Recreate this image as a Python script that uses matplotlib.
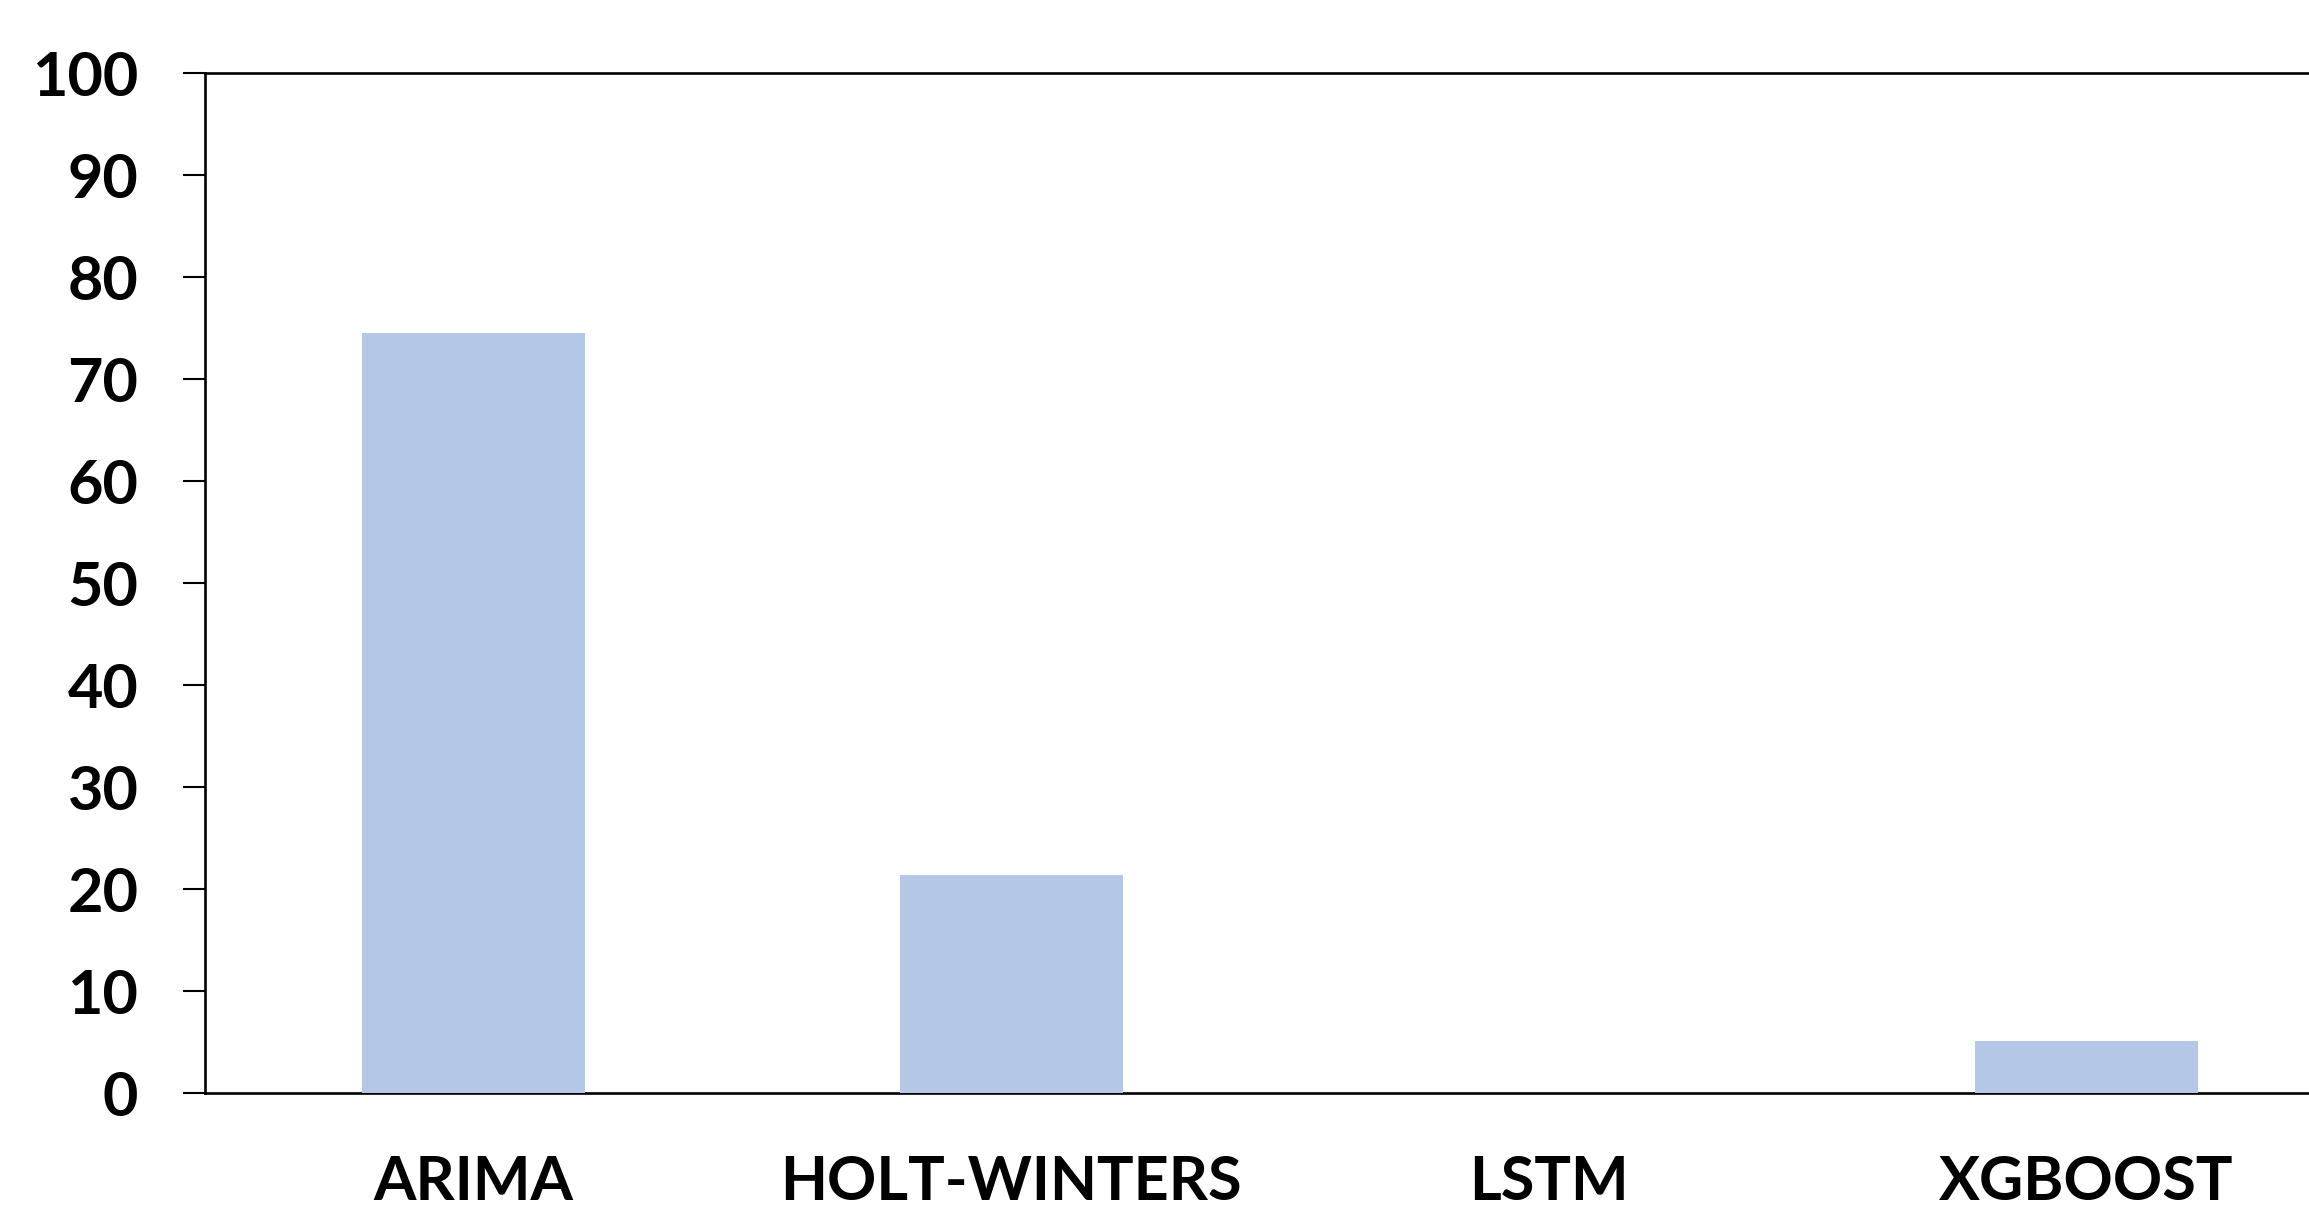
import matplotlib
matplotlib.use("Agg")
import matplotlib.pyplot as plt
import numpy as np

# model share, percent
models = ["ARIMA", "HOLT-WINTERS", "LSTM", "XGBOOST"]
share = [74.5, 21.4, 0.0, 5.1]
y_ticks = list(range(0, 101, 10))

bar_color = "#B4C7E7"

plt.rcParams["font.family"] = ["Lato", "DejaVu Sans"]
plt.rcParams["font.weight"] = "bold"

fig = plt.figure(figsize=(23.09, 12.08), dpi=100)
# axes run a little past the right edge of the figure
ax = fig.add_axes([205 / 2309, 115 / 1208, 2150 / 2309, 1020 / 1208])

x = np.arange(len(models))
ax.bar(x, share, width=0.415, color=bar_color, linewidth=0, zorder=3)

ax.set_xlim(-0.5, 3.5)
ax.set_ylim(0, 100)
ax.set_yticks(y_ticks)
ax.set_yticklabels([str(v) for v in y_ticks], fontsize=44, fontweight="bold")
ax.set_xticks(x)
ax.set_xticklabels(models, fontsize=44, fontweight="bold")

ax.tick_params(axis="y", direction="out", length=16, width=1.5, pad=32)
ax.tick_params(axis="x", length=0, pad=44)

for side in ["left", "top", "bottom", "right"]:
    ax.spines[side].set_linewidth(1.9)
    ax.spines[side].set_color("black")

fig.savefig("out.png", dpi=100)
